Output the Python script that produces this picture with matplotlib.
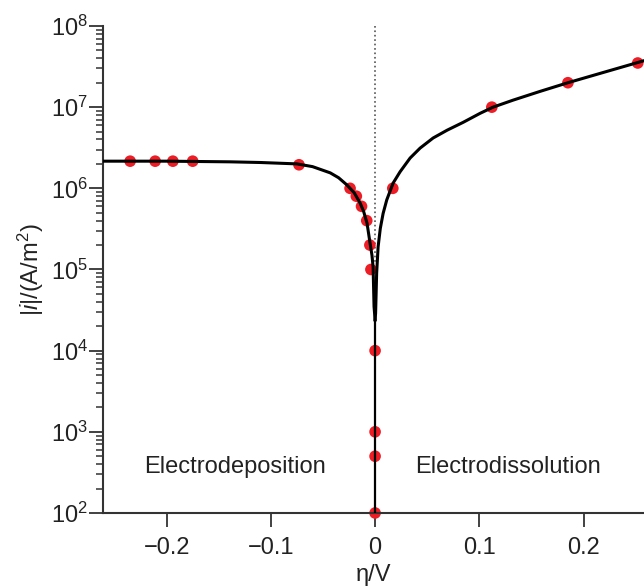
import numpy as np
import matplotlib
matplotlib.use('Agg')
import matplotlib.pyplot as plt
from matplotlib.ticker import LogLocator, NullFormatter, FixedLocator

plt.rcParams['font.family'] = ['Liberation Sans', 'DejaVu Sans']
plt.rcParams['mathtext.fontset'] = 'custom'
plt.rcParams['mathtext.rm'] = 'Liberation Sans'
plt.rcParams['mathtext.it'] = 'Liberation Sans:italic'

# measured points
eta_pts = [-0.235, -0.211, -0.194, -0.175, -0.073, -0.024, -0.018, -0.013, -0.008,
           -0.005, -0.004, 0.0, 0.0, 0.0, 0.0, 0.017, 0.112, 0.185, 0.252]
i_pts = [2.16e6, 2.16e6, 2.16e6, 2.16e6, 1.95e6, 1.0e6, 8e5, 6e5, 4e5,
         2e5, 1e5, 1e4, 1e3, 5e2, 1e2, 1e6, 1e7, 2e7, 3.5e7]

# fitted curve
eta_cath = [-0.262, -0.2, -0.139, -0.11, -0.075, -0.06, -0.043, -0.035, -0.027, -0.02,
            -0.0144, -0.011, -0.0077, -0.0048, -0.003, -0.0019, -0.001, 0.0]
i_cath = [2.16e6, 2.16e6, 2.12e6, 2.08e6, 2.0e6, 1.85e6, 1.55e6, 1.35e6, 1.1e6, 8.8e5,
          6.6e5, 5.2e5, 3.7e5, 2.1e5, 1.5e5, 1.07e5, 3.5e4, 2.4e4]
eta_anod = [0.0, 0.0005, 0.0015, 0.0029, 0.005, 0.0077, 0.0112, 0.0173, 0.024, 0.0336,
            0.0432, 0.0557, 0.0691, 0.0845, 0.1008, 0.1132, 0.1324, 0.158, 0.185, 0.22, 0.26]
i_anod = [2.4e4, 2.9e4, 9e4, 1.9e5, 3.2e5, 4.9e5, 7.2e5, 1.16e6, 1.6e6, 2.36e6,
          3.13e6, 4.17e6, 5.2e6, 6.5e6, 8.4e6, 1.0e7, 1.22e7, 1.56e7, 2.0e7, 2.7e7, 3.8e7]

fig = plt.figure(figsize=(6.44, 5.88), dpi=100)
ax = fig.add_axes([0.16, 0.1276, 0.84, 0.8282])

ax.plot([0, 0], [1e8, 1.2e5], ls=':', color='#555555', lw=1.2, zorder=1)
ax.scatter(eta_pts, i_pts, s=70, color='#ee1c25', edgecolors='none', zorder=2, clip_on=False)
ax.plot(eta_cath, i_cath, color='black', lw=2.2, zorder=3)
ax.plot(eta_anod, i_anod, color='black', lw=2.2, zorder=3)
ax.plot([0, 0], [2.4e4, 1e2], color='black', lw=1.6, zorder=3)

ax.set_yscale('log')
ax.set_xlim(-0.261, 0.258)
ax.set_ylim(1e2, 1e8)

ax.xaxis.set_major_locator(FixedLocator([-0.2, -0.1, 0, 0.1, 0.2]))
ax.set_xticklabels(['\u22120.2', '\u22120.1', '0', '0.1', '0.2'])
ax.yaxis.set_major_locator(FixedLocator([1e2, 1e3, 1e4, 1e5, 1e6, 1e7, 1e8]))
ax.set_yticklabels(['10$^{%d}$' % k for k in range(2, 9)])
ax.yaxis.set_minor_locator(LogLocator(base=10, subs=np.arange(2, 10), numticks=20))
ax.yaxis.set_minor_formatter(NullFormatter())

for s in ['top', 'right']:
    ax.spines[s].set_visible(False)
for s in ['left', 'bottom']:
    ax.spines[s].set_color('#333333')
    ax.spines[s].set_linewidth(1.5)

ax.tick_params(axis='both', which='major', direction='out', length=10, width=1.3,
               colors='#333333', labelcolor='#222222', labelsize=17)
ax.tick_params(axis='x', pad=7)
ax.tick_params(axis='y', which='major', pad=1)
ax.tick_params(axis='y', which='minor', direction='out', length=5, width=1.1, colors='#333333')

ax.set_xlabel('\u03b7/V', fontsize=17, color='#222222', labelpad=4)
ax.set_ylabel('|$i$|/(A/m$^2$)', fontsize=17, color='#222222', labelpad=3)

ax.text(-0.134, 370, 'Electrodeposition', fontsize=17, color='#222222', ha='center', va='center')
ax.text(0.128, 370, 'Electrodissolution', fontsize=17, color='#222222', ha='center', va='center')

fig.savefig('out.png', dpi=100)
